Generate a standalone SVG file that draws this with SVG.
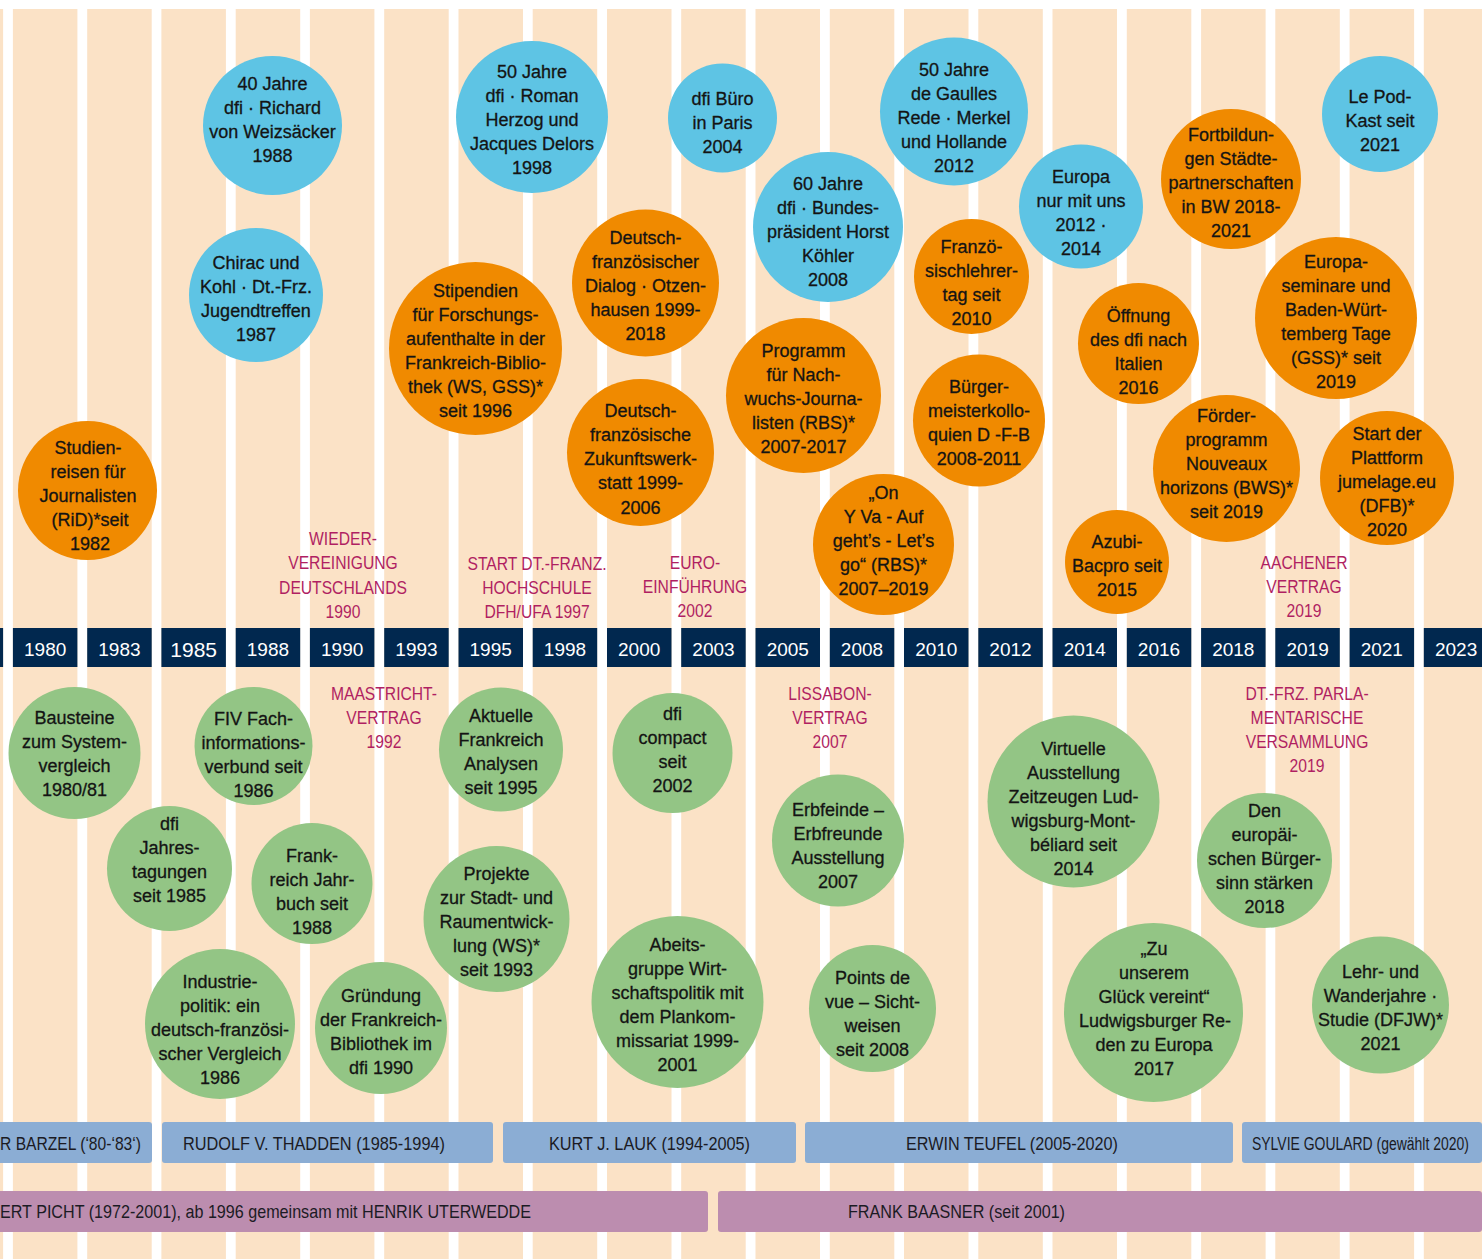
<svg xmlns="http://www.w3.org/2000/svg" width="1482" height="1259" viewBox="0 0 1482 1259">
<style>
.col{fill:#fbe2c6}
.yb{fill:#01284f}
.yr{font-family:'Liberation Sans',Arial,sans-serif;font-size:19px;fill:#fff;text-anchor:middle}
.o{fill:#f08a00}
.b{fill:#5ec4e4}
.g{fill:#93c585}
.t{font-family:'Liberation Sans',Arial,sans-serif;font-size:18px;fill:#141414;stroke:#141414;stroke-width:0.3px;text-anchor:middle}
.ev{font-family:'Liberation Sans',Arial,sans-serif;font-size:18px;fill:#b01f62;text-anchor:middle}
.bb{fill:#8badd4}
.pb{fill:#bc8daf}
.bt{font-family:'Liberation Sans',Arial,sans-serif;font-size:19px;fill:#1b1b24}
</style>
<rect width="1482" height="1259" fill="#fff"/>
<g id="columns">
<rect class="col" x="-61.4" y="9" width="64.5" height="1250"/>
<rect class="col" x="12.9" y="9" width="64.5" height="1250"/>
<rect class="col" x="87.2" y="9" width="64.5" height="1250"/>
<rect class="col" x="161.4" y="9" width="64.5" height="1250"/>
<rect class="col" x="235.7" y="9" width="64.5" height="1250"/>
<rect class="col" x="309.9" y="9" width="64.5" height="1250"/>
<rect class="col" x="384.2" y="9" width="64.5" height="1250"/>
<rect class="col" x="458.5" y="9" width="64.5" height="1250"/>
<rect class="col" x="532.7" y="9" width="64.5" height="1250"/>
<rect class="col" x="607" y="9" width="64.5" height="1250"/>
<rect class="col" x="681.2" y="9" width="64.5" height="1250"/>
<rect class="col" x="755.5" y="9" width="64.5" height="1250"/>
<rect class="col" x="829.8" y="9" width="64.5" height="1250"/>
<rect class="col" x="904" y="9" width="64.5" height="1250"/>
<rect class="col" x="978.3" y="9" width="64.5" height="1250"/>
<rect class="col" x="1052.5" y="9" width="64.5" height="1250"/>
<rect class="col" x="1126.8" y="9" width="64.5" height="1250"/>
<rect class="col" x="1201.1" y="9" width="64.5" height="1250"/>
<rect class="col" x="1275.3" y="9" width="64.5" height="1250"/>
<rect class="col" x="1349.6" y="9" width="64.5" height="1250"/>
<rect class="col" x="1423.8" y="9" width="58.2" height="1250"/>
</g>
<g id="years">
<rect class="yb" x="-61.4" y="628" width="64.5" height="39"/>
<rect class="yb" x="12.9" y="628" width="64.5" height="39"/><text class="yr" x="45.2" y="656">1980</text>
<rect class="yb" x="87.2" y="628" width="64.5" height="39"/><text class="yr" x="119.4" y="656">1983</text>
<rect class="yb" x="161.4" y="628" width="64.5" height="39"/><text class="yr" x="193.7" y="657" style="font-size:21px">1985</text>
<rect class="yb" x="235.7" y="628" width="64.5" height="39"/><text class="yr" x="267.9" y="656">1988</text>
<rect class="yb" x="309.9" y="628" width="64.5" height="39"/><text class="yr" x="342.2" y="656">1990</text>
<rect class="yb" x="384.2" y="628" width="64.5" height="39"/><text class="yr" x="416.5" y="656">1993</text>
<rect class="yb" x="458.5" y="628" width="64.5" height="39"/><text class="yr" x="490.7" y="656">1995</text>
<rect class="yb" x="532.7" y="628" width="64.5" height="39"/><text class="yr" x="565" y="656">1998</text>
<rect class="yb" x="607" y="628" width="64.5" height="39"/><text class="yr" x="639.2" y="656">2000</text>
<rect class="yb" x="681.2" y="628" width="64.5" height="39"/><text class="yr" x="713.5" y="656">2003</text>
<rect class="yb" x="755.5" y="628" width="64.5" height="39"/><text class="yr" x="787.8" y="656">2005</text>
<rect class="yb" x="829.8" y="628" width="64.5" height="39"/><text class="yr" x="862" y="656">2008</text>
<rect class="yb" x="904" y="628" width="64.5" height="39"/><text class="yr" x="936.3" y="656">2010</text>
<rect class="yb" x="978.3" y="628" width="64.5" height="39"/><text class="yr" x="1010.5" y="656">2012</text>
<rect class="yb" x="1052.5" y="628" width="64.5" height="39"/><text class="yr" x="1084.8" y="656">2014</text>
<rect class="yb" x="1126.8" y="628" width="64.5" height="39"/><text class="yr" x="1159" y="656">2016</text>
<rect class="yb" x="1201.1" y="628" width="64.5" height="39"/><text class="yr" x="1233.3" y="656">2018</text>
<rect class="yb" x="1275.3" y="628" width="64.5" height="39"/><text class="yr" x="1307.6" y="656">2019</text>
<rect class="yb" x="1349.6" y="628" width="64.5" height="39"/><text class="yr" x="1381.8" y="656">2021</text>
<rect class="yb" x="1423.8" y="628" width="58.2" height="39"/><text class="yr" x="1456.1" y="656">2023</text>
</g>
<g id="events">
<g id="ev-wiedervereinigung" transform="translate(343 0) scale(0.87 1)"><text class="ev"><tspan x="0" y="545">WIEDER-</tspan><tspan x="0" y="569.5">VEREINIGUNG</tspan><tspan x="0" y="594">DEUTSCHLANDS</tspan><tspan x="0" y="618">1990</tspan></text></g>
<g id="ev-dfh" transform="translate(537 0) scale(0.87 1)"><text class="ev"><tspan x="0" y="570">START DT.-FRANZ.</tspan><tspan x="0" y="594">HOCHSCHULE</tspan><tspan x="0" y="618">DFH/UFA 1997</tspan></text></g>
<g id="ev-euro" transform="translate(695 0) scale(0.87 1)"><text class="ev"><tspan x="0" y="569">EURO-</tspan><tspan x="0" y="593">EINFÜHRUNG</tspan><tspan x="0" y="617">2002</tspan></text></g>
<g id="ev-aachen" transform="translate(1304 0) scale(0.87 1)"><text class="ev"><tspan x="0" y="569">AACHENER</tspan><tspan x="0" y="593">VERTRAG</tspan><tspan x="0" y="617">2019</tspan></text></g>
<g id="ev-maastricht" transform="translate(384 0) scale(0.87 1)"><text class="ev"><tspan x="0" y="700">MAASTRICHT-</tspan><tspan x="0" y="724">VERTRAG</tspan><tspan x="0" y="748">1992</tspan></text></g>
<g id="ev-lissabon" transform="translate(830 0) scale(0.87 1)"><text class="ev"><tspan x="0" y="700">LISSABON-</tspan><tspan x="0" y="724">VERTRAG</tspan><tspan x="0" y="748">2007</tspan></text></g>
<g id="ev-parlament" transform="translate(1307 0) scale(0.87 1)"><text class="ev"><tspan x="0" y="700">DT.-FRZ. PARLA-</tspan><tspan x="0" y="724">MENTARISCHE</tspan><tspan x="0" y="748">VERSAMMLUNG</tspan><tspan x="0" y="772">2019</tspan></text></g>
</g>
<g id="connectors"></g>
<g id="nodes">
<g id="n1"><circle class="b" cx="272.5" cy="125.5" r="69.5"/><text class="t"><tspan x="272.5" y="90">40 Jahre</tspan><tspan x="272.5" y="114">dfi · Richard</tspan><tspan x="272.5" y="138">von Weizsäcker</tspan><tspan x="272.5" y="162">1988</tspan></text></g>
<g id="n2"><circle class="b" cx="256" cy="295" r="67"/><text class="t"><tspan x="256" y="269">Chirac und</tspan><tspan x="256" y="293">Kohl · Dt.-Frz.</tspan><tspan x="256" y="317">Jugendtreffen</tspan><tspan x="256" y="341">1987</tspan></text></g>
<g id="n3"><circle class="b" cx="532" cy="117" r="76"/><text class="t"><tspan x="532" y="78">50 Jahre</tspan><tspan x="532" y="102">dfi · Roman</tspan><tspan x="532" y="126">Herzog und</tspan><tspan x="532" y="150">Jacques Delors</tspan><tspan x="532" y="174">1998</tspan></text></g>
<g id="n4"><circle class="b" cx="722.5" cy="118" r="54.5"/><text class="t"><tspan x="722.5" y="105">dfi Büro</tspan><tspan x="722.5" y="129">in Paris</tspan><tspan x="722.5" y="153">2004</tspan></text></g>
<g id="n5"><circle class="b" cx="828" cy="227" r="75"/><text class="t"><tspan x="828" y="190">60 Jahre</tspan><tspan x="828" y="214">dfi · Bundes-</tspan><tspan x="828" y="238">präsident Horst</tspan><tspan x="828" y="262">Köhler</tspan><tspan x="828" y="286">2008</tspan></text></g>
<g id="n6"><circle class="b" cx="954" cy="111.5" r="74"/><text class="t"><tspan x="954" y="76">50 Jahre</tspan><tspan x="954" y="100">de Gaulles</tspan><tspan x="954" y="124">Rede · Merkel</tspan><tspan x="954" y="148">und Hollande</tspan><tspan x="954" y="172">2012</tspan></text></g>
<g id="n7"><circle class="b" cx="1081" cy="206.5" r="62"/><text class="t"><tspan x="1081" y="183">Europa</tspan><tspan x="1081" y="207">nur mit uns</tspan><tspan x="1081" y="231">2012 ·</tspan><tspan x="1081" y="255">2014</tspan></text></g>
<g id="n8"><circle class="b" cx="1380" cy="114" r="58"/><text class="t"><tspan x="1380" y="103">Le Pod-</tspan><tspan x="1380" y="127">Kast seit</tspan><tspan x="1380" y="151">2021</tspan></text></g>
<g id="n9"><circle class="o" cx="87.5" cy="490.5" r="69.5"/><text class="t"><tspan x="88" y="454">Studien-</tspan><tspan x="88" y="478">reisen für</tspan><tspan x="88" y="502">Journalisten</tspan><tspan x="90" y="526">(RiD)*seit</tspan><tspan x="90" y="550">1982</tspan></text></g>
<g id="n10"><circle class="o" cx="475.5" cy="348.5" r="86.5"/><text class="t"><tspan x="475.5" y="297">Stipendien</tspan><tspan x="475.5" y="321">für Forschungs-</tspan><tspan x="475.5" y="345">aufenthalte in der</tspan><tspan x="475.5" y="369">Frankreich-Biblio-</tspan><tspan x="475.5" y="393">thek (WS, GSS)*</tspan><tspan x="475.5" y="417">seit 1996</tspan></text></g>
<g id="n11"><circle class="o" cx="645.5" cy="283" r="73.5"/><text class="t"><tspan x="645.5" y="244">Deutsch-</tspan><tspan x="645.5" y="268">französischer</tspan><tspan x="645.5" y="292">Dialog · Otzen-</tspan><tspan x="645.5" y="316">hausen 1999-</tspan><tspan x="645.5" y="340">2018</tspan></text></g>
<g id="n12"><circle class="o" cx="640.5" cy="452.5" r="73.5"/><text class="t"><tspan x="640.5" y="417">Deutsch-</tspan><tspan x="640.5" y="441">französische</tspan><tspan x="640.5" y="465">Zukunftswerk-</tspan><tspan x="640.5" y="489">statt 1999-</tspan><tspan x="640.5" y="514">2006</tspan></text></g>
<g id="n13"><circle class="o" cx="803.5" cy="395.5" r="77.5"/><text class="t"><tspan x="803.5" y="357">Programm</tspan><tspan x="803.5" y="381">für Nach-</tspan><tspan x="803.5" y="405">wuchs-Journa-</tspan><tspan x="803.5" y="429">listen (RBS)*</tspan><tspan x="803.5" y="453">2007-2017</tspan></text></g>
<g id="n14"><circle class="o" cx="971.5" cy="276.5" r="57.5"/><text class="t"><tspan x="971.5" y="253">Franzö-</tspan><tspan x="971.5" y="277">sischlehrer-</tspan><tspan x="971.5" y="301">tag seit</tspan><tspan x="971.5" y="325">2010</tspan></text></g>
<g id="n15"><circle class="o" cx="979" cy="420.5" r="66"/><text class="t"><tspan x="979" y="393">Bürger-</tspan><tspan x="979" y="417">meisterkollo-</tspan><tspan x="979" y="441">quien D -F-B</tspan><tspan x="979" y="465">2008-2011</tspan></text></g>
<g id="n16"><circle class="o" cx="883.5" cy="544.5" r="70.5"/><text class="t"><tspan x="883.5" y="499">„On</tspan><tspan x="883.5" y="523">Y Va - Auf</tspan><tspan x="883.5" y="547">geht’s - Let’s</tspan><tspan x="883.5" y="571">go“ (RBS)*</tspan><tspan x="883.5" y="595">2007–2019</tspan></text></g>
<g id="n17"><circle class="o" cx="1231" cy="179" r="70"/><text class="t"><tspan x="1231" y="141">Fortbildun-</tspan><tspan x="1231" y="165">gen Städte-</tspan><tspan x="1231" y="189">partnerschaften</tspan><tspan x="1231" y="213">in BW 2018-</tspan><tspan x="1231" y="237">2021</tspan></text></g>
<g id="n18"><circle class="o" cx="1138.5" cy="343.5" r="60.5"/><text class="t"><tspan x="1138.5" y="322">Öffnung</tspan><tspan x="1138.5" y="346">des dfi nach</tspan><tspan x="1138.5" y="370">Italien</tspan><tspan x="1138.5" y="394">2016</tspan></text></g>
<g id="n19"><circle class="o" cx="1336" cy="318" r="81"/><text class="t"><tspan x="1336" y="268">Europa-</tspan><tspan x="1336" y="292">seminare und</tspan><tspan x="1336" y="316">Baden-Würt-</tspan><tspan x="1336" y="340">temberg Tage</tspan><tspan x="1336" y="364">(GSS)* seit</tspan><tspan x="1336" y="388">2019</tspan></text></g>
<g id="n20"><circle class="o" cx="1226.5" cy="468.5" r="73.5"/><text class="t"><tspan x="1226.5" y="422">Förder-</tspan><tspan x="1226.5" y="446">programm</tspan><tspan x="1226.5" y="470">Nouveaux</tspan><tspan x="1226.5" y="494">horizons (BWS)*</tspan><tspan x="1226.5" y="518">seit 2019</tspan></text></g>
<g id="n21"><circle class="o" cx="1117" cy="562" r="52"/><text class="t"><tspan x="1117" y="548">Azubi-</tspan><tspan x="1117" y="572">Bacpro seit</tspan><tspan x="1117" y="596">2015</tspan></text></g>
<g id="n22"><circle class="o" cx="1387" cy="478" r="67"/><text class="t"><tspan x="1387" y="440">Start der</tspan><tspan x="1387" y="464">Plattform</tspan><tspan x="1387" y="488">jumelage.eu</tspan><tspan x="1387" y="512">(DFB)*</tspan><tspan x="1387" y="536">2020</tspan></text></g>
<g id="n23"><circle class="g" cx="74.5" cy="753" r="66"/><text class="t"><tspan x="74.5" y="724">Bausteine</tspan><tspan x="74.5" y="748">zum System-</tspan><tspan x="74.5" y="772">vergleich</tspan><tspan x="74.5" y="796">1980/81</tspan></text></g>
<g id="n24"><circle class="g" cx="253.5" cy="746" r="59"/><text class="t"><tspan x="253.5" y="725">FIV Fach-</tspan><tspan x="253.5" y="749">informations-</tspan><tspan x="253.5" y="773">verbund seit</tspan><tspan x="253.5" y="797">1986</tspan></text></g>
<g id="n25"><circle class="g" cx="169.5" cy="868.5" r="62.5"/><text class="t"><tspan x="169.5" y="830">dfi</tspan><tspan x="169.5" y="854">Jahres-</tspan><tspan x="169.5" y="878">tagungen</tspan><tspan x="169.5" y="902">seit 1985</tspan></text></g>
<g id="n26"><circle class="g" cx="312" cy="883.5" r="60.5"/><text class="t"><tspan x="312" y="862">Frank-</tspan><tspan x="312" y="886">reich Jahr-</tspan><tspan x="312" y="910">buch seit</tspan><tspan x="312" y="934">1988</tspan></text></g>
<g id="n27"><circle class="g" cx="220" cy="1024" r="75"/><text class="t"><tspan x="220" y="988">Industrie-</tspan><tspan x="220" y="1012">politik: ein</tspan><tspan x="220" y="1036">deutsch-französi-</tspan><tspan x="220" y="1060">scher Vergleich</tspan><tspan x="220" y="1084">1986</tspan></text></g>
<g id="n28"><circle class="g" cx="381" cy="1028" r="66"/><text class="t"><tspan x="381" y="1002">Gründung</tspan><tspan x="381" y="1026">der Frankreich-</tspan><tspan x="381" y="1050">Bibliothek im</tspan><tspan x="381" y="1074">dfi 1990</tspan></text></g>
<g id="n29"><circle class="g" cx="501" cy="749.5" r="62"/><text class="t"><tspan x="501" y="722">Aktuelle</tspan><tspan x="501" y="746">Frankreich</tspan><tspan x="501" y="770">Analysen</tspan><tspan x="501" y="794">seit 1995</tspan></text></g>
<g id="n30"><circle class="g" cx="496.5" cy="919" r="73"/><text class="t"><tspan x="496.5" y="880">Projekte</tspan><tspan x="496.5" y="904">zur Stadt- und</tspan><tspan x="496.5" y="928">Raumentwick-</tspan><tspan x="496.5" y="952">lung (WS)*</tspan><tspan x="496.5" y="976">seit 1993</tspan></text></g>
<g id="n31"><circle class="g" cx="672.5" cy="753" r="60"/><text class="t"><tspan x="672.5" y="720">dfi</tspan><tspan x="672.5" y="744">compact</tspan><tspan x="672.5" y="768">seit</tspan><tspan x="672.5" y="792">2002</tspan></text></g>
<g id="n32"><circle class="g" cx="677.5" cy="1002" r="86"/><text class="t"><tspan x="677.5" y="951">Abeits-</tspan><tspan x="677.5" y="975">gruppe Wirt-</tspan><tspan x="677.5" y="999">schaftspolitik mit</tspan><tspan x="677.5" y="1023">dem Plankom-</tspan><tspan x="677.5" y="1047">missariat 1999-</tspan><tspan x="677.5" y="1071">2001</tspan></text></g>
<g id="n33"><circle class="g" cx="838" cy="840.5" r="66"/><text class="t"><tspan x="838" y="816">Erbfeinde –</tspan><tspan x="838" y="840">Erbfreunde</tspan><tspan x="838" y="864">Ausstellung</tspan><tspan x="838" y="888">2007</tspan></text></g>
<g id="n34"><circle class="g" cx="872.5" cy="1008.5" r="63.5"/><text class="t"><tspan x="872.5" y="984">Points de</tspan><tspan x="872.5" y="1008">vue – Sicht-</tspan><tspan x="872.5" y="1032">weisen</tspan><tspan x="872.5" y="1056">seit 2008</tspan></text></g>
<g id="n35"><circle class="g" cx="1073.5" cy="801.5" r="86"/><text class="t"><tspan x="1073.5" y="755">Virtuelle</tspan><tspan x="1073.5" y="779">Ausstellung</tspan><tspan x="1073.5" y="803">Zeitzeugen Lud-</tspan><tspan x="1073.5" y="827">wigsburg-Mont-</tspan><tspan x="1073.5" y="851">béliard seit</tspan><tspan x="1073.5" y="875">2014</tspan></text></g>
<g id="n36"><circle class="g" cx="1264.5" cy="860.5" r="67.5"/><text class="t"><tspan x="1264.5" y="817">Den</tspan><tspan x="1264.5" y="841">europäi-</tspan><tspan x="1264.5" y="865">schen Bürger-</tspan><tspan x="1264.5" y="889">sinn stärken</tspan><tspan x="1264.5" y="913">2018</tspan></text></g>
<g id="n37"><circle class="g" cx="1153.5" cy="1012.5" r="89.5"/><text class="t"><tspan x="1154" y="955">„Zu</tspan><tspan x="1154" y="979">unserem</tspan><tspan x="1154" y="1003">Glück vereint“</tspan><tspan x="1155" y="1027">Ludwigsburger Re-</tspan><tspan x="1154" y="1051">den zu Europa</tspan><tspan x="1154" y="1075">2017</tspan></text></g>
<g id="n38"><circle class="g" cx="1380.5" cy="1005" r="68.5"/><text class="t"><tspan x="1380.5" y="978">Lehr- und</tspan><tspan x="1380.5" y="1002">Wanderjahre ·</tspan><tspan x="1380.5" y="1026">Studie (DFJW)*</tspan><tspan x="1380.5" y="1050">2021</tspan></text></g>
</g>
<g id="bars">
<g id="bar-barzel"><rect class="bb" x="-10" y="1122" width="162" height="41" rx="3"/><text class="bt" x="0" y="1150" textLength="141" lengthAdjust="spacingAndGlyphs">R BARZEL (‘80-‘83‘)</text></g>
<g id="bar-thadden"><rect class="bb" x="162" y="1122" width="331" height="41" rx="3"/><text class="bt" x="183" y="1150" textLength="262" lengthAdjust="spacingAndGlyphs">RUDOLF V. THADDEN (1985-1994)</text></g>
<g id="bar-lauk"><rect class="bb" x="503" y="1122" width="293" height="41" rx="3"/><text class="bt" x="549" y="1150" textLength="201" lengthAdjust="spacingAndGlyphs">KURT J. LAUK (1994-2005)</text></g>
<g id="bar-teufel"><rect class="bb" x="805" y="1122" width="428" height="41" rx="3"/><text class="bt" x="906" y="1150" textLength="212" lengthAdjust="spacingAndGlyphs">ERWIN TEUFEL (2005-2020)</text></g>
<g id="bar-goulard"><rect class="bb" x="1242" y="1122" width="240" height="41" rx="3"/><text class="bt" transform="translate(1252 1150) scale(0.735 1)" x="0" y="0">SYLVIE GOULARD (gewählt 2020)</text></g>
<g id="bar-picht"><rect class="pb" x="-10" y="1191" width="718" height="41" rx="3"/><text class="bt" x="0" y="1218" textLength="531" lengthAdjust="spacingAndGlyphs">ERT PICHT (1972-2001), ab 1996 gemeinsam mit HENRIK UTERWEDDE</text></g>
<g id="bar-baasner"><rect class="pb" x="718" y="1191" width="764" height="41" rx="3"/><text class="bt" x="848" y="1218" textLength="217" lengthAdjust="spacingAndGlyphs">FRANK BAASNER (seit 2001)</text></g>
</g>
</svg>
